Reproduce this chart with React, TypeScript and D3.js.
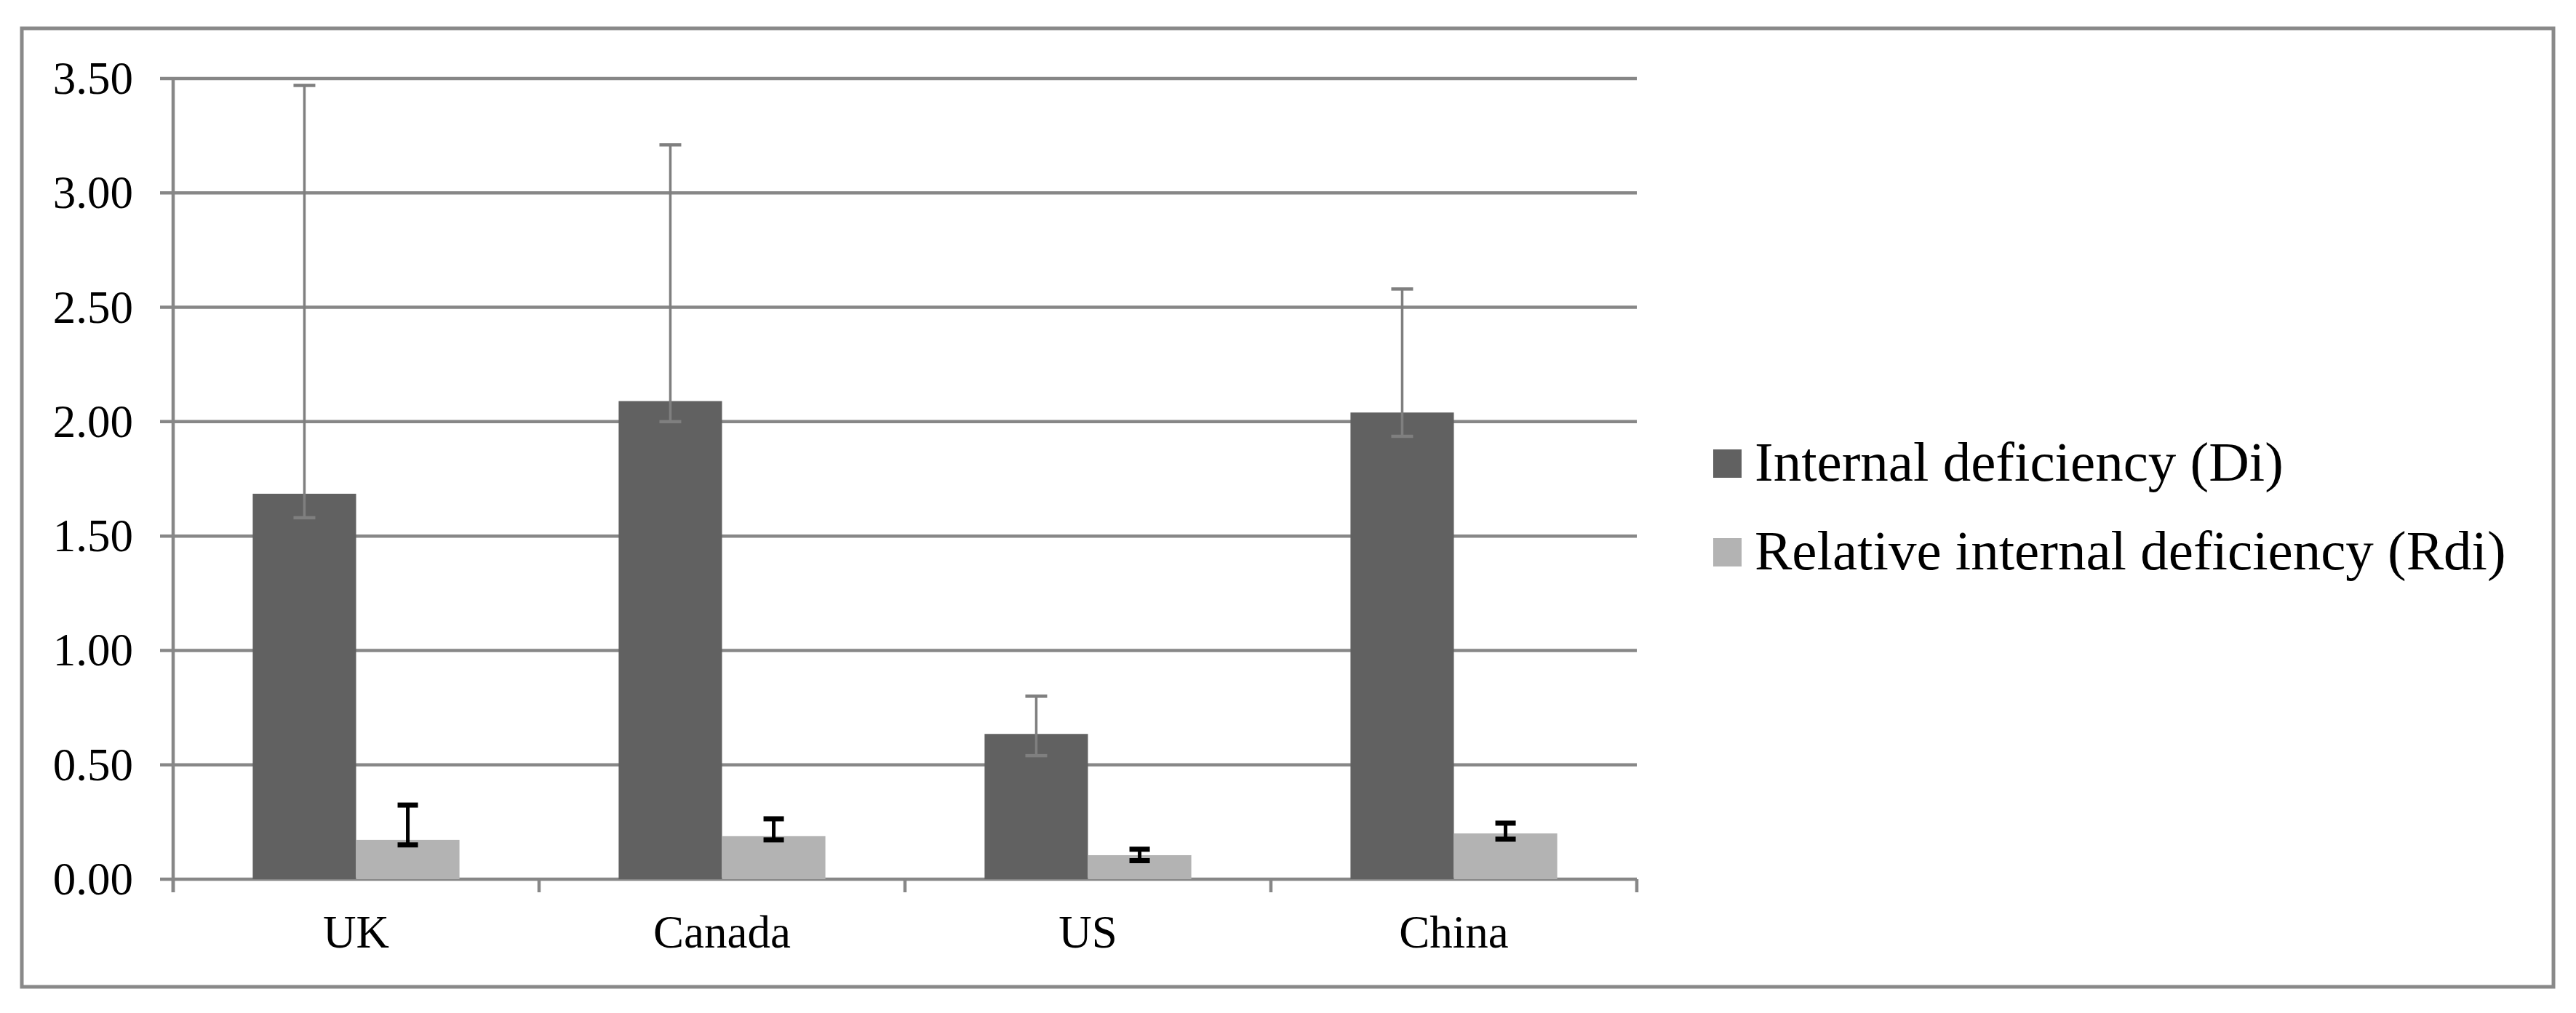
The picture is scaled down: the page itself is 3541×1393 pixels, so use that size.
import React from 'react';
import * as d3 from 'd3';

// values
const categories = ['UK', 'Canada', 'US', 'China'];
const di = [1.685, 2.09, 0.635, 2.04];
const diErrPlus = [1.785, 1.12, 0.165, 0.54];
const diErrMinus = [0.105, 0.09, 0.095, 0.104];
const rdi = [0.172, 0.188, 0.105, 0.2];
const rdiErrPlus = [0.152, 0.076, 0.026, 0.045];
const rdiErrMinus = [0.022, 0.016, 0.024, 0.025];
const yTicks = [0, 0.5, 1, 1.5, 2, 2.5, 3, 3.5];
const seriesNames = ['Internal deficiency (Di)', 'Relative internal deficiency (Rdi)'];

const W = 3541;
const H = 1393;
const font = '"Liberation Serif", "Times New Roman", serif';
const gridColor = '#878787';
const colors = ['#616161', '#b3b3b3'];

export default function App() {
  const x = d3.scaleBand<string>().domain(categories).range([238, 2250]);
  const inner = d3.scaleBand<number>().domain([0, 1]).range([0, x.bandwidth()]).paddingOuter(0.77);
  const y = d3.scaleLinear().domain([0, 3.5]).range([1209, 108]);
  const fmt = d3.format('.2f');
  const [x0, x1] = x.range();
  const catEdges = [...categories.map((c) => x(c) as number), x1];

  const series = [
    { values: di, plus: diErrPlus, minus: diErrMinus, errColor: '#7f7f7f', errW: 3.5, capH: 4.5, capW: 30 },
    { values: rdi, plus: rdiErrPlus, minus: rdiErrMinus, errColor: '#000', errW: 5, capH: 7, capW: 28 },
  ];

  return (
    <svg width={W} height={H} style={{ position: 'absolute', left: 0, top: 0, background: '#fff' }}>
      <rect x={0} y={0} width={W} height={H} fill="#fff" />
      {/* chart area border */}
      <rect x={30} y={39} width={3480} height={1318} fill="none" stroke="#898989" strokeWidth={5} />

      {/* gridlines + y ticks */}
      {yTicks.map((t) => (
        <g key={t}>
          <line x1={x0 - 18} x2={x1} y1={y(t)} y2={y(t)} stroke={gridColor} strokeWidth={4.5} />
          <text x={183} y={y(t) + 21} textAnchor="end" fontFamily={font} fontSize={63} fill="#000">
            {fmt(t)}
          </text>
        </g>
      ))}

      {/* y axis */}
      <line x1={x0} x2={x0} y1={y(3.5)} y2={y(0) + 18} stroke={gridColor} strokeWidth={4.5} />

      {/* category ticks */}
      {catEdges.map((e, i) => (
        <line key={i} x1={e} x2={e} y1={y(0)} y2={y(0) + 18} stroke={gridColor} strokeWidth={4.5} />
      ))}

      {/* bars */}
      {series.map((s, si) =>
        categories.map((c, i) => (
          <rect
            key={`${si}-${c}`}
            x={(x(c) as number) + (inner(si) as number)}
            y={y(s.values[i])}
            width={inner.bandwidth()}
            height={y(0) - y(s.values[i])}
            fill={colors[si]}
          />
        ))
      )}

      {/* error bars */}
      {series.map((s, si) =>
        categories.map((c, i) => {
          const cx = (x(c) as number) + (inner(si) as number) + inner.bandwidth() / 2;
          const top = y(s.values[i] + s.plus[i]);
          const bot = y(s.values[i] - s.minus[i]);
          return (
            <g key={`e${si}-${c}`} stroke={s.errColor}>
              <line x1={cx} x2={cx} y1={top} y2={bot} strokeWidth={s.errW} />
              <line x1={cx - s.capW / 2} x2={cx + s.capW / 2} y1={top} y2={top} strokeWidth={s.capH} />
              <line x1={cx - s.capW / 2} x2={cx + s.capW / 2} y1={bot} y2={bot} strokeWidth={s.capH} />
            </g>
          );
        })
      )}

      {/* category labels */}
      {categories.map((c) => (
        <text
          key={c}
          x={(x(c) as number) + x.bandwidth() / 2}
          y={1303}
          textAnchor="middle"
          fontFamily={font}
          fontSize={63}
          fill="#000"
        >
          {c}
        </text>
      ))}

      {/* legend */}
      {seriesNames.map((n, i) => (
        <g key={n} transform={`translate(2355, ${618 + i * 122})`}>
          <rect x={0} y={0} width={39} height={39} fill={colors[i]} />
          <text x={57} y={43} fontFamily={font} fontSize={77} fill="#000">
            {n}
          </text>
        </g>
      ))}
    </svg>
  );
}
